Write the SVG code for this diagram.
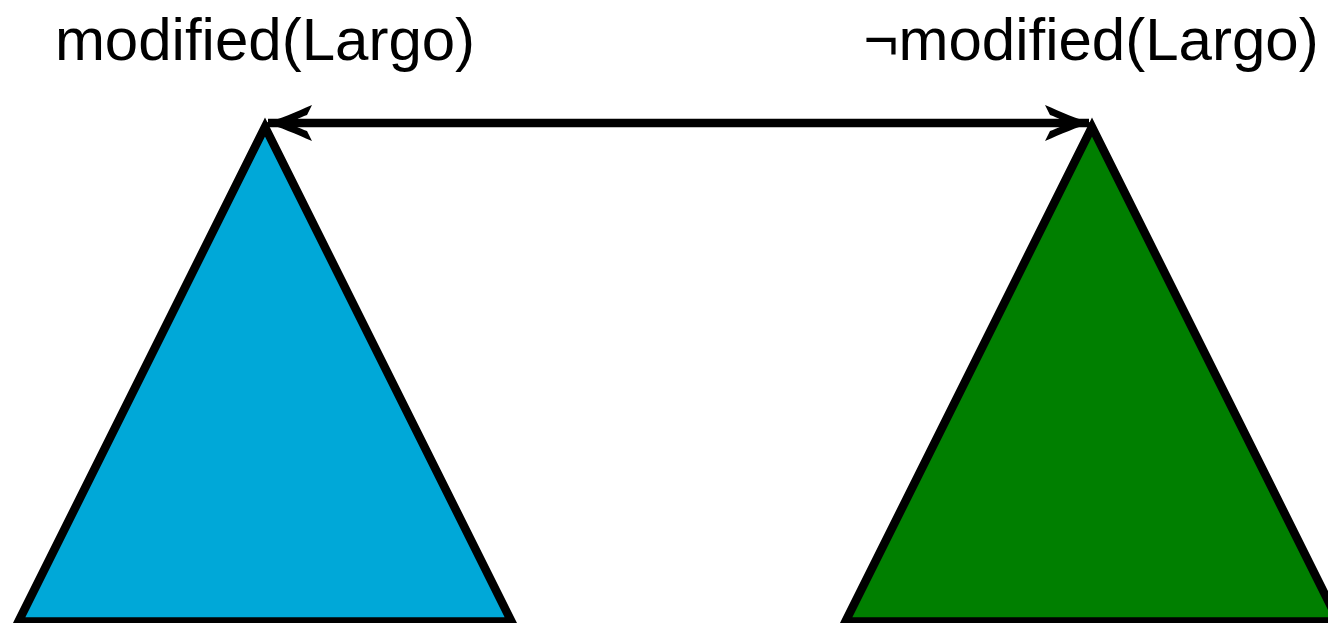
<svg xmlns="http://www.w3.org/2000/svg" width="1328" height="623" viewBox="0 0 1328 623">
<style>
.tri{stroke:#000;stroke-width:8.5;stroke-linejoin:miter;stroke-miterlimit:10}
.lbl{font-family:"Liberation Sans","DejaVu Sans",sans-serif;font-size:60px;fill:#000;text-anchor:middle}
.edge{stroke:#000;stroke-width:8.5;fill:none}
</style>
<defs>
<marker id="head" markerUnits="userSpaceOnUse" markerWidth="60" markerHeight="44" viewBox="-48 -22 52 44" refX="0" refY="0" orient="auto-start-reverse">
<path d="M3,0 C-12,-4 -28,-11 -44,-18 L-39,-8 C-31,-5 -25,-2 -22,0 C-25,2 -31,5 -39,8 L-44,18 C-28,11 -12,4 3,0 Z" fill="#000"/>
</marker>
</defs>
<rect width="1328" height="623" fill="#fff"/>
<g id="left">
<polygon class="tri" points="18.5,621.5 265,127 511.5,621.5" fill="#00A8D8"/>
<text class="lbl" x="265" y="60">modified(Largo)</text>
</g>
<g id="right">
<polygon class="tri" points="845.5,621.5 1092,127 1338.5,621.5" fill="#007F00"/>
<text class="lbl" x="1091" y="60">¬modified(Largo)</text>
</g>
<g id="connectors">
<line class="edge" x1="268" y1="123" x2="1089" y2="123" marker-start="url(#head)" marker-end="url(#head)"/>
</g>
</svg>
